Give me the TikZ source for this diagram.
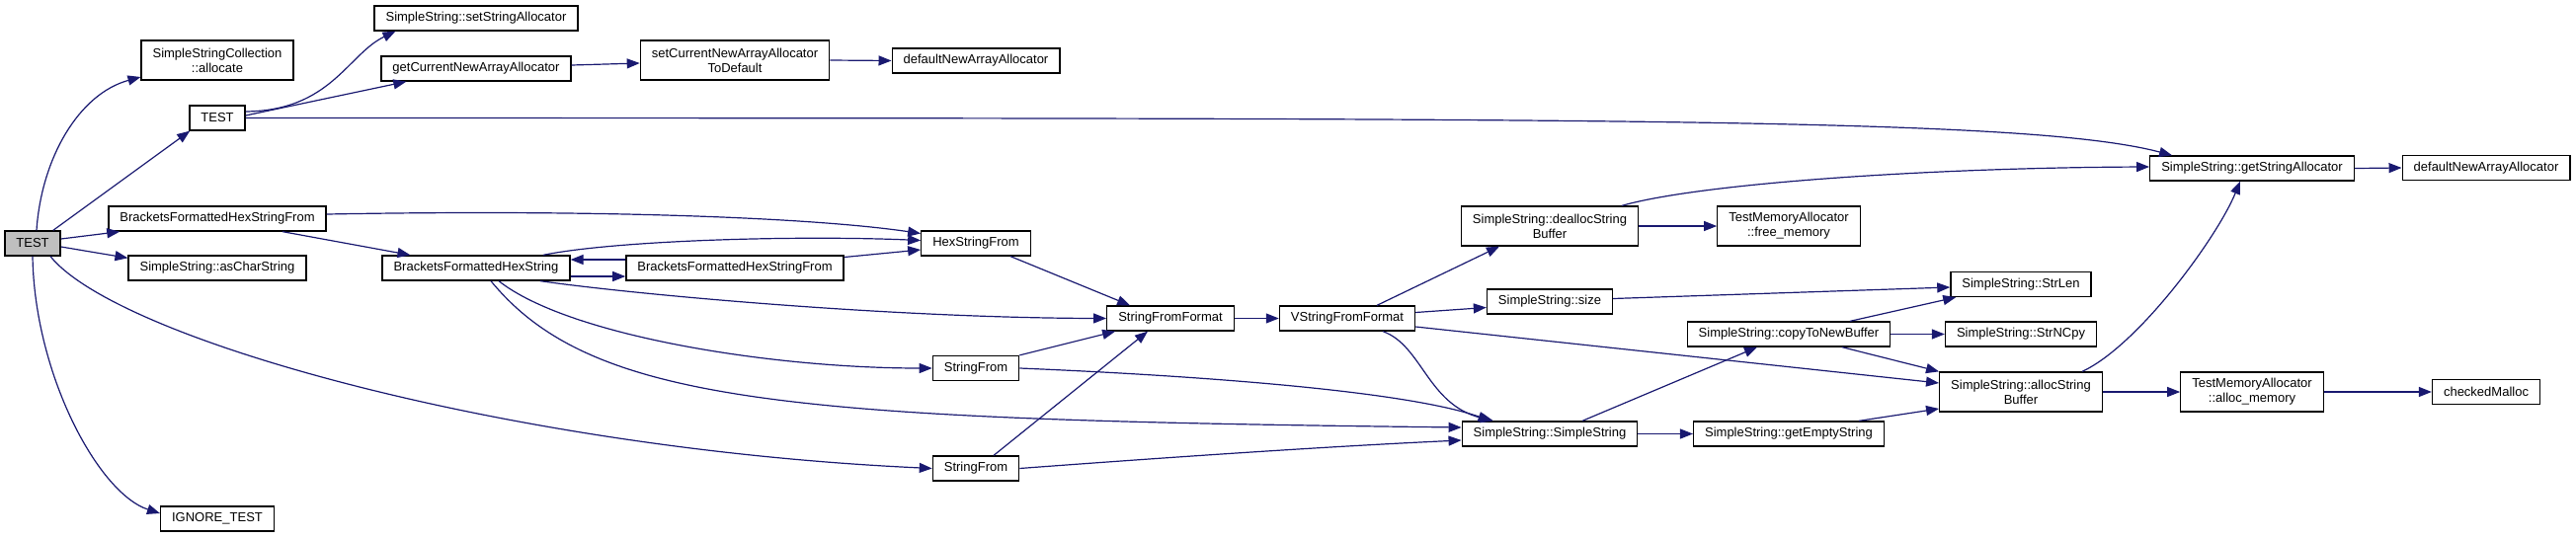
\documentclass[tikz,border=0pt]{standalone}
\usepackage{fontspec}
\setmainfont{Liberation Sans}
\usetikzlibrary{arrows.meta}
\definecolor{edgeblue}{HTML}{191970}
\definecolor{rootgray}{HTML}{BFBFBF}
\begin{document}
\begin{tikzpicture}[x=1pt, y=-1pt,
	fn/.style={draw=black, line width=1.3pt, fill=white, font=\fontsize{13}{15}\selectfont, inner xsep=11.5pt, inner ysep=0pt, minimum height=25pt, align=center},
	fntwo/.style={fn, minimum height=40pt},
	call/.style={draw=edgeblue, line width=1.2pt, -{Triangle[length=13pt,width=10pt]}}]
	\useasboundingbox (0,0) rectangle (2608,544);

	\node[fn, fill=rootgray] (test) at (33,246.5) {TEST};
	\node[fntwo] (allocate) at (220,61) {SimpleStringCollection\\::allocate};
	\node[fn] (test2) at (220,119.5) {TEST};
	\node[fn] (bfhsfA) at (220,221.5) {BracketsFormattedHexStringFrom};
	\node[fn] (asCharString) at (220,271.5) {SimpleString::asCharString};
	\node[fn] (ignoreTest) at (220,525.5) {IGNORE\_TEST};
	\node[fn] (setSA) at (482,18.5) {SimpleString::setStringAllocator};
	\node[fn] (getCNAA) at (482,69.5) {getCurrentNewArrayAllocator};
	\node[fn] (bfhs) at (482,271.5) {BracketsFormattedHexString};
	\node[fntwo] (setCNAA) at (744,61) {setCurrentNewArrayAllocator\\ToDefault};
	\node[fn] (bfhsfB) at (744,271.5) {BracketsFormattedHexStringFrom};
	\node[fn] (defaultNAA) at (988,61.5) {defaultNewArrayAllocator};
	\node[fn] (hexSF) at (988,246.5) {HexStringFrom};
	\node[fn] (strFromA) at (988,373) {StringFrom};
	\node[fn] (strFromB) at (988,474.5) {StringFrom};
	\node[fn] (strFF) at (1185,322.5) {StringFromFormat};
	\node[fn] (vStrFF) at (1364,322.5) {VStringFromFormat};
	\node[fntwo] (dealloc) at (1569,229) {SimpleString::deallocString\\Buffer};
	\node[fn] (ssSize) at (1569,305.5) {SimpleString::size};
	\node[fn] (ctor) at (1569,439.5) {SimpleString::SimpleString};
	\node[fntwo] (freeMem) at (1811,229) {TestMemoryAllocator\\::free\_memory};
	\node[fn] (copyTNB) at (1811,338.5) {SimpleString::copyToNewBuffer};
	\node[fn] (emptyStr) at (1811,439.5) {SimpleString::getEmptyString};
	\node[fn] (strLen) at (2046,288) {SimpleString::StrLen};
	\node[fn] (strNCpy) at (2046,338.5) {SimpleString::StrNCpy};
	\node[fntwo] (allocSB) at (2046,397) {SimpleString::allocString\\Buffer};
	\node[fn] (getSA) at (2280,170.5) {SimpleString::getStringAllocator};
	\node[fntwo] (allocMem) at (2280,397) {TestMemoryAllocator\\::alloc\_memory};
	\node[fn] (defaultNAA2) at (2517,170) {defaultNewArrayAllocator};
	\node[fn] (mallocChk) at (2517,397) {checkedMalloc};

	\draw[call] ([xshift=4pt]test.north) .. controls (42,160) and (80,95) .. ([yshift=-17pt]allocate.west);
	\draw[call] ([xshift=-8pt]test.north east) -- ([xshift=1pt]test2.south west);
	\draw[call] ([yshift=4.5pt]test.east) -- ([xshift=12pt]bfhsfA.south west);
	\draw[call] ([yshift=-3.5pt]test.east) -- ([yshift=-3pt]asCharString.north west);
	\draw[call] ([xshift=18pt]test.south) .. controls (120,345) and (520,455) .. (strFromB.west);
	\draw[call] (test.south) .. controls (35,380) and (100,500) .. ([yshift=5.5pt]ignoreTest.west);
	\draw[call] ([yshift=6.5pt]test2.east) .. controls (335,112) and (352,55) .. ([xshift=22pt]setSA.south west);
	\draw[call] ([yshift=2.5pt]test2.east) -- ([xshift=26pt]getCNAA.south west);
	\draw[call] (test2.east) .. controls (1600,120) and (2050,118) .. ([xshift=23pt]getSA.north west);
	\draw[call] ([yshift=3.5pt]getCNAA.east) -- ([yshift=-3pt]setCNAA.west);
	\draw[call] (setCNAA.east) -- (defaultNAA.west);

	\draw[call] ([xshift=66pt]bfhsfA.south) -- ([xshift=29pt]bfhs.north west);
	\draw[call] ([yshift=4.5pt]bfhsfA.east) .. controls (600,212) and (820,220) .. ([yshift=10pt]hexSF.west);
	\draw[call] ([yshift=-8.5pt]bfhs.east) -- ([yshift=-8.5pt]bfhsfB.west);
	\draw[call] ([yshift=8.5pt]bfhsfB.west) -- ([yshift=8.5pt]bfhs.east);
	\draw[call] ([xshift=68pt]bfhs.north) .. controls (620,244) and (800,238) .. ([yshift=3pt]hexSF.west);
	\draw[call] ([yshift=11pt]bfhsfB.east) -- ([yshift=-6.5pt]hexSF.west);
	\draw[call] ([xshift=65pt]bfhs.south) .. controls (640,298) and (900,322) .. (strFF.west);
	\draw[call] ([xshift=23pt]bfhs.south) .. controls (575,340) and (780,373) .. (strFromA.west);
	\draw[call] ([xshift=15pt]bfhs.south) .. controls (600,410) and (800,425) .. ([yshift=6.5pt]ctor.west);

	\draw[call] ([xshift=35pt]hexSF.south) -- ([xshift=24pt]strFF.north west);
	\draw[call] (strFromA.north east) -- ([xshift=9pt]strFF.south west);
	\draw[call] ([xshift=18pt]strFromB.north) -- ([xshift=-23pt]strFF.south);
	\draw[call] (strFromA.east) .. controls (1200,380) and (1420,395) .. ([xshift=30pt]ctor.north west);
	\draw[call] (strFromB.east) .. controls (1200,462) and (1350,452) .. ([yshift=-6.5pt]ctor.west);
	\draw[call] (strFF.east) -- (vStrFF.west);

	\draw[call] ([xshift=30pt]vStrFF.north) -- ([xshift=-51pt]dealloc.south);
	\draw[call] ([yshift=6pt]vStrFF.east) -- ([yshift=-6pt]ssSize.west);
	\draw[call] ([xshift=36pt]vStrFF.south) .. controls (1440,350) and (1445,410) .. ([xshift=-57pt]ctor.north);
	\draw[call] ([yshift=-8.5pt]vStrFF.east) -- ([yshift=9pt]allocSB.west);
	\draw[call] (dealloc.east) -- (freeMem.west);
	\draw[call] ([xshift=73pt]dealloc.north) .. controls (1720,186) and (1950,170) .. ([yshift=1.5pt]getSA.west);
	\draw[call] ([yshift=3pt]ssSize.east) -- ([yshift=-3pt]strLen.west);
	\draw[call] ([xshift=33pt]ctor.north) -- ([xshift=-32pt]copyTNB.south);
	\draw[call] (ctor.east) -- (emptyStr.west);
	\draw[call] ([xshift=62pt]copyTNB.north) -- ([xshift=6pt]strLen.south west);
	\draw[call] (copyTNB.east) -- (strNCpy.west);
	\draw[call] ([xshift=54pt]copyTNB.south) -- (allocSB.north west);
	\draw[call] ([xshift=71pt]emptyStr.north) -- ([yshift=-17pt]allocSB.west);
	\draw[call] ([xshift=62pt]allocSB.north) .. controls (2165,350) and (2245,240) .. ([xshift=-12pt]getSA.south);
	\draw[call] (allocSB.east) -- (allocMem.west);
	\draw[call] (allocMem.east) -- (mallocChk.west);
	\draw[call] (getSA.east) -- (defaultNAA2.west);
\end{tikzpicture}
\end{document}
